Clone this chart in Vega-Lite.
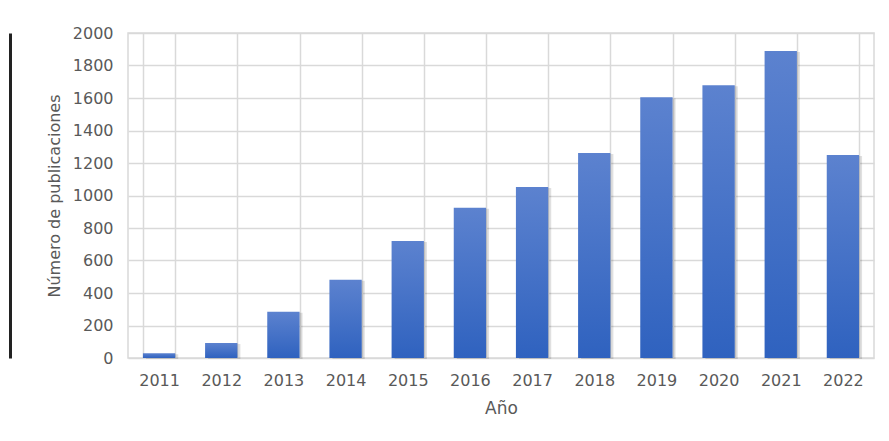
{
  "$schema": "https://vega.github.io/schema/vega-lite/v6.json",
  "autosize": "none",
  "width": 746,
  "height": 325,
  "padding": {"left": 128, "top": 33, "right": 15, "bottom": 83},
  "background": "white",
  "data": {
    "values": [
      {"anio": "2011", "publicaciones": 30},
      {"anio": "2012", "publicaciones": 92},
      {"anio": "2013", "publicaciones": 285},
      {"anio": "2014", "publicaciones": 482},
      {"anio": "2015", "publicaciones": 720},
      {"anio": "2016", "publicaciones": 925},
      {"anio": "2017", "publicaciones": 1052},
      {"anio": "2018", "publicaciones": 1262},
      {"anio": "2019", "publicaciones": 1604},
      {"anio": "2020", "publicaciones": 1678},
      {"anio": "2021", "publicaciones": 1889},
      {"anio": "2022", "publicaciones": 1249}
    ]
  },
  "encoding": {
    "x": {
      "field": "anio",
      "type": "ordinal",
      "scale": {"paddingInner": 0.48, "paddingOuter": 0.24},
      "axis": {
        "title": "Año",
        "titleFontSize": 17,
        "labelAngle": 0,
        "ticks": false,
        "domain": false,
        "grid": true,
        "tickBand": "extent",
        "gridColor": "#d9d9d9",
        "gridWidth": 1.5,
        "labelPadding": 14,
        "titlePadding": 12
      }
    },
    "y": {
      "field": "publicaciones",
      "type": "quantitative",
      "scale": {"domain": [0, 2000]}
    }
  },
  "layer": [
    {
      "mark": {"type": "bar", "color": "#000000", "opacity": 0.12, "xOffset": 3, "yOffset": 1},
      "encoding": {
        "y": {
          "field": "publicaciones",
          "type": "quantitative",
          "scale": {"domain": [0, 2000]},
          "axis": {
            "orient": "left",
            "title": "Número de publicaciones",
            "titleFontSize": 16,
            "values": [0, 200, 400, 600, 800, 1000, 1200, 1400, 1600, 1800, 2000],
            "format": "d",
            "ticks": false,
            "domain": false,
            "grid": true,
            "gridColor": "#d9d9d9",
            "gridWidth": 1.5,
            "labelPadding": 15,
            "titlePadding": 10
          }
        }
      }
    },
    {
      "mark": {
        "type": "bar",
        "color": {
          "gradient": "linear",
          "x1": 0, "y1": 0, "x2": 0, "y2": 1,
          "stops": [
            {"offset": 0, "color": "#5c82cf"},
            {"offset": 1, "color": "#2f62bf"}
          ]
        }
      },
      "encoding": {
        "y": {
          "field": "publicaciones",
          "type": "quantitative",
          "scale": {"domain": [0, 2000]},
          "axis": null
        }
      }
    },
    {
      "mark": {"type": "rule", "opacity": 0},
      "encoding": {
        "x": null,
        "y": {
          "datum": 0,
          "type": "quantitative",
          "axis": {
            "orient": "left",
            "offset": 118,
            "labels": false,
            "ticks": false,
            "grid": false,
            "title": null,
            "domain": true,
            "domainColor": "#222222",
            "domainWidth": 3
          }
        }
      }
    }
  ],
  "resolve": {"axis": {"y": "independent"}},
  "config": {
    "view": {"stroke": "#d9d9d9", "strokeWidth": 1.5},
    "axis": {
      "labelFont": "DejaVu Sans",
      "titleFont": "DejaVu Sans",
      "labelFontSize": 16,
      "titleFontWeight": "normal",
      "labelColor": "#595959",
      "titleColor": "#595959"
    }
  }
}
